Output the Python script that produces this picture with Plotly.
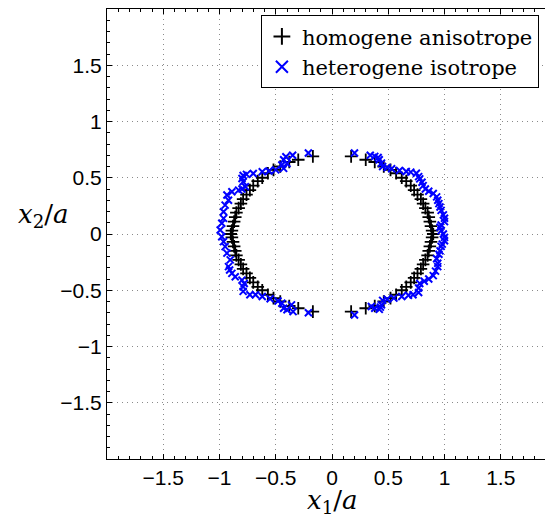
import plotly.graph_objects as go

# homogene anisotrope (black +), right and left branches
hom_x_right = [0.17, 0.30, 0.38, 0.46, 0.52, 0.57, 0.62, 0.66, 0.70, 0.73, 0.76, 0.79, 0.81,
               0.83, 0.85, 0.86, 0.87, 0.88, 0.89, 0.90, 0.89, 0.88, 0.87, 0.86, 0.85, 0.83,
               0.81, 0.79, 0.76, 0.73, 0.70, 0.66, 0.62, 0.57, 0.52, 0.46, 0.38, 0.30, 0.17]
hom_y_right = [-0.69, -0.66, -0.64, -0.60, -0.57, -0.54, -0.50, -0.47, -0.43, -0.39, -0.35, -0.31, -0.27,
               -0.23, -0.19, -0.15, -0.11, -0.07, -0.03, 0.00, 0.03, 0.07, 0.11, 0.15, 0.19, 0.23,
               0.27, 0.31, 0.35, 0.39, 0.43, 0.47, 0.50, 0.54, 0.57, 0.60, 0.64, 0.66, 0.69]
hom_x_left = [-0.17, -0.30, -0.38, -0.46, -0.52, -0.57, -0.62, -0.66, -0.70, -0.73, -0.76, -0.79, -0.81,
              -0.83, -0.85, -0.86, -0.87, -0.88, -0.89, -0.90, -0.89, -0.88, -0.87, -0.86, -0.85, -0.83,
              -0.81, -0.79, -0.76, -0.73, -0.70, -0.66, -0.62, -0.57, -0.52, -0.46, -0.38, -0.30, -0.17]
hom_y_left = [0.69, 0.66, 0.64, 0.60, 0.57, 0.54, 0.50, 0.47, 0.43, 0.39, 0.35, 0.31, 0.27,
              0.23, 0.19, 0.15, 0.11, 0.07, 0.03, 0.00, -0.03, -0.07, -0.11, -0.15, -0.19, -0.23,
              -0.27, -0.31, -0.35, -0.39, -0.43, -0.47, -0.50, -0.54, -0.57, -0.60, -0.64, -0.66, -0.69]

# heterogene isotrope (blue x), right and left branches
het_x_right = [0.20, 0.34, 0.38, 0.41, 0.42, 0.44, 0.45, 0.49, 0.53, 0.60, 0.66, 0.70, 0.75, 0.77,
               0.78, 0.80, 0.81, 0.83, 0.86, 0.90, 0.93, 0.94, 0.95, 0.96, 0.97, 0.99, 1.00, 1.00,
               0.97, 0.96, 0.97, 0.99, 1.00, 1.00, 0.98, 0.97, 0.96, 0.95, 0.93, 0.94, 0.94, 0.92,
               0.90, 0.86, 0.82, 0.78, 0.77, 0.77, 0.72, 0.68, 0.62, 0.55, 0.49, 0.45, 0.44, 0.43,
               0.42, 0.38, 0.35, 0.20]
het_y_right = [0.72, 0.70, 0.69, 0.68, 0.66, 0.63, 0.60, 0.59, 0.58, 0.565, 0.555, 0.55, 0.54, 0.51,
               0.49, 0.46, 0.43, 0.40, 0.38, 0.36, 0.33, 0.30, 0.27, 0.24, 0.21, 0.17, 0.14, 0.11,
               0.08, 0.06, 0.03, 0.00, -0.03, -0.06, -0.09, -0.11, -0.15, -0.18, -0.22, -0.26, -0.29, -0.33,
               -0.37, -0.40, -0.42, -0.44, -0.48, -0.52, -0.54, -0.545, -0.555, -0.57, -0.58, -0.59, -0.63, -0.65,
               -0.67, -0.66, -0.645, -0.72]
het_x_left = [-0.21, -0.35, -0.41, -0.43, -0.40, -0.446, -0.43, -0.50, -0.56, -0.62, -0.70, -0.76, -0.79,
              -0.80, -0.79, -0.77, -0.80, -0.83, -0.89, -0.934, -0.92, -0.95, -0.964, -0.964, -0.98, -0.994,
              -0.98, -0.964, -0.95, -0.934, -0.905, -0.92, -0.91, -0.89, -0.86, -0.80, -0.78, -0.79, -0.79,
              -0.73, -0.68, -0.62, -0.55, -0.48, -0.446, -0.43, -0.40, -0.346, -0.36, -0.21]
het_y_left = [0.72, 0.70, 0.686, 0.66, 0.627, 0.613, 0.583, 0.57, 0.56, 0.553, 0.538, 0.53, 0.52,
              0.494, 0.464, 0.42, 0.40, 0.39, 0.375, 0.346, 0.30, 0.257, 0.198, 0.139, 0.095, 0.035,
              -0.024, -0.068, -0.112, -0.17, -0.23, -0.29, -0.32, -0.35, -0.38, -0.41, -0.44, -0.47, -0.51,
              -0.54, -0.54, -0.556, -0.575, -0.595, -0.615, -0.66, -0.674, -0.69, -0.63, -0.70]

tick_vals = [-1.5, -1, -0.5, 0, 0.5, 1, 1.5]
tick_text = ['\u22121.5', '\u22121', '\u22120.5', '0', '0.5', '1', '1.5']

fig = go.Figure()
fig.add_trace(go.Scatter(x=hom_x_right + hom_x_left, y=hom_y_right + hom_y_left,
                         mode='markers', name='homogene anisotrope',
                         marker=dict(symbol='cross-thin', size=9, color='black',
                                     line=dict(color='black', width=1.8))))
fig.add_trace(go.Scatter(x=het_x_right + het_x_left, y=het_y_right + het_y_left,
                         mode='markers', name='heterogene isotrope',
                         marker=dict(symbol='x-thin', size=7, color='blue',
                                     line=dict(color='blue', width=2))))

axis_common = dict(tickvals=tick_vals, ticktext=tick_text, ticks='inside', ticklen=5,
                   tickcolor='black', showline=True, linecolor='black', linewidth=1,
                   showgrid=True, gridcolor='#8a8a8a', griddash='1px,4px', gridwidth=1,
                   zeroline=False, mirror='ticks',
                   minor=dict(dtick=0.1, tick0=0, ticks='inside', ticklen=3,
                              tickcolor='black', showgrid=False),
                   tickfont=dict(family='Liberation Sans, Arial', size=21, color='black'))

# the page adds an 8px body margin, so the plot area is placed 8px up/left
fig.update_xaxes(range=[-2, 2], **axis_common)
fig.update_yaxes(range=[-2, 2], **axis_common)

fig.update_layout(
    width=553, height=523,
    margin=dict(l=99, r=4, t=1, b=72),
    plot_bgcolor='white', paper_bgcolor='white',
    showlegend=True,
    legend=dict(x=0.342, y=0.986, xanchor='left', yanchor='top',
                bgcolor='white', bordercolor='black', borderwidth=1,
                font=dict(family='DejaVu Serif', size=21, color='black'),
                itemsizing='constant', tracegroupgap=0),
    annotations=[
        dict(text='<i>x</i><sub>1</sub>/<i>a</i>', xref='paper', yref='paper',
             x=0.5, y=-0.094, xanchor='center', yanchor='middle', showarrow=False,
             font=dict(family='DejaVu Serif', size=26, color='black')),
        dict(text='<i>x</i><sub>2</sub>/<i>a</i>', xref='paper', yref='paper',
             x=-0.142, y=0.542, xanchor='center', yanchor='middle', showarrow=False,
             font=dict(family='DejaVu Serif', size=26, color='black')),
    ],
)

fig.write_html("out.html")
